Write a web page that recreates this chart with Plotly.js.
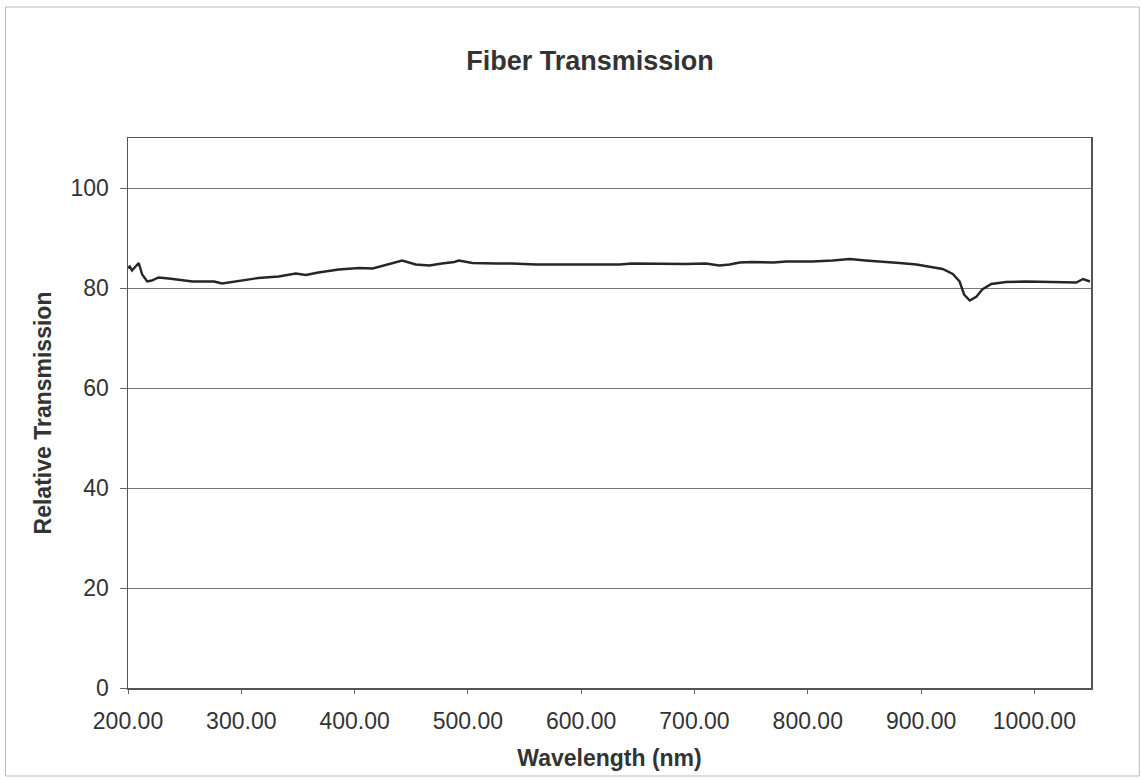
<!DOCTYPE html>
<html>
<head>
<meta charset="utf-8">
<script src="https://cdn.plot.ly/plotly-3.0.1.min.js"></script>
<style>
  html, body { margin: 0; padding: 0; background: #ffffff; }
  #chart { width: 1142px; height: 780px; }
</style>
</head>
<body>
<div id="chart"></div>
<script>
// Wavelength (nm)
const wavelength = [200, 201.5, 203.5, 206.5, 209.5, 212.5, 217, 221, 227, 236, 248, 257, 268, 276, 283, 292,
  304, 315, 333, 348, 357, 368, 386, 404, 416, 430, 442, 454, 466, 477, 488, 492, 504, 525, 539, 560, 584,
  613, 634, 645, 672, 692, 710, 722, 731, 740, 751, 770, 781, 804, 822, 837, 851, 866, 881, 896, 910, 919,
  928, 934, 938, 943, 949, 954, 962, 975, 993, 1011, 1028, 1037, 1043, 1049];
// Relative transmission
const transmission = [84.0, 84.3, 83.5, 84.2, 85.0, 82.7, 81.3, 81.5, 82.1, 81.9, 81.5, 81.3, 81.3, 81.3, 80.9, 81.2,
  81.5, 82.0, 82.3, 82.9, 82.6, 83.1, 83.7, 84.0, 83.9, 84.7, 85.5, 84.7, 84.5, 84.9, 85.2, 85.5, 85.0, 84.9, 84.9, 84.7, 84.7,
  84.8, 84.7, 84.9, 84.8, 84.8, 84.9, 84.5, 84.7, 85.1, 85.2, 85.1, 85.3, 85.3, 85.5, 85.8, 85.5, 85.3, 85.0, 84.7, 84.1, 83.8,
  82.8, 81.3, 78.7, 77.5, 78.3, 79.7, 80.8, 81.2, 81.3, 81.2, 81.1, 81.1, 81.8, 81.3];
const xTicks = [200, 300, 400, 500, 600, 700, 800, 900, 1000];
const yTicks = [0, 20, 40, 60, 80, 100];

const FONT = '"Liberation Sans", Arial, sans-serif';

const trace = {
  x: wavelength,
  y: transmission,
  type: 'scatter',
  mode: 'lines',
  line: { color: '#262626', width: 2.4 },
  hoverinfo: 'skip'
};

const layout = {
  width: 1142,
  height: 780,
  paper_bgcolor: '#ffffff',
  plot_bgcolor: '#ffffff',
  margin: { l: 127.5, r: 51, t: 138, b: 92 },
  showlegend: false,
  font: { family: FONT, color: '#333333' },
  title: {
    text: '<b>Fiber Transmission</b>',
    font: { family: FONT, size: 27, color: '#333333' },
    x: 0.5166, xanchor: 'center',
    y: 1 - 61 / 780, yanchor: 'middle'
  },
  xaxis: {
    range: [200, 1050],
    tickvals: xTicks,
    ticktext: xTicks.map(v => v.toFixed(2)),
    ticks: 'outside', ticklen: 4, tickcolor: '#666666', tickwidth: 1,
    ticklabelstandoff: 8,
    tickfont: { family: FONT, size: 23, color: '#333333' },
    showgrid: false,
    zeroline: false,
    showline: true, mirror: true, linecolor: '#555555', linewidth: 1.5,
    title: { text: '<b>Wavelength (nm)</b>', font: { family: FONT, size: 23, color: '#333333' }, standoff: 17 }
  },
  yaxis: {
    range: [0, 110],
    tickvals: yTicks,
    ticks: 'outside', ticklen: 7, tickcolor: '#666666', tickwidth: 1,
    ticklabelstandoff: 6,
    tickfont: { family: FONT, size: 23, color: '#333333' },
    showgrid: true, gridcolor: '#777777', gridwidth: 1,
    zeroline: false,
    showline: true, mirror: true, linecolor: '#555555', linewidth: 1.5,
    title: { text: '<b>Relative Transmission</b>', font: { family: FONT, size: 23, color: '#333333' }, standoff: 12 }
  },
  shapes: [{
    type: 'rect', xref: 'paper', yref: 'paper',
    x0: (5 - 127.5) / 963.2, x1: (1139 - 127.5) / 963.2,
    y0: (688 - 776) / 550, y1: (688 - 7) / 550,
    line: { color: '#bbbbbb', width: 1 }, fillcolor: 'rgba(0,0,0,0)', layer: 'below'
  }]
};

Plotly.newPlot('chart', [trace], layout, { staticPlot: true, displayModeBar: false });
</script>
</body>
</html>
